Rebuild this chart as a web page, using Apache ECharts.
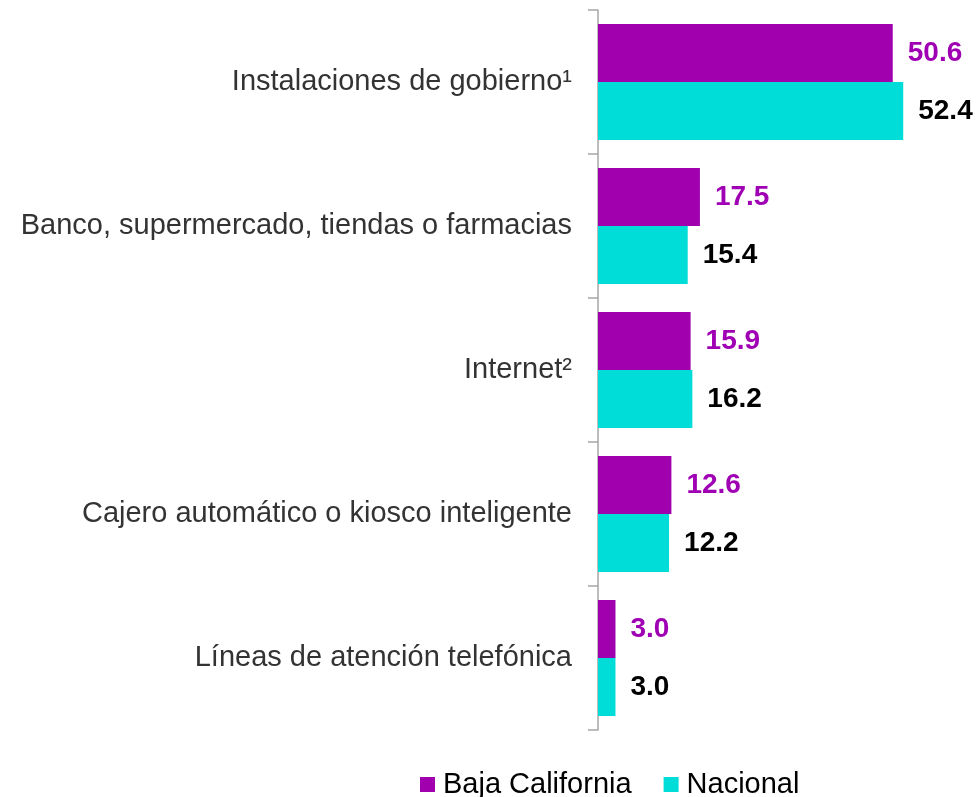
<!DOCTYPE html>
<html>
<head>
<meta charset="utf-8">
<script src="https://cdn.jsdelivr.net/npm/echarts@6/dist/echarts.min.js"></script>
<style>
html, body { margin: 0; padding: 0; background: #fff; }
#chart { width: 979px; height: 797px; }
</style>
</head>
<body>
<div id="chart"></div>
<script>
var categories = [
	'Instalaciones de gobierno\u00b9',
	'Banco, supermercado, tiendas o farmacias',
	'Internet\u00b2',
	'Cajero autom\u00e1tico o kiosco inteligente',
	'L\u00edneas de atenci\u00f3n telef\u00f3nica'
];
var bajaCalifornia = [50.6, 17.5, 15.9, 12.6, 3.0];
var nacional = [52.4, 15.4, 16.2, 12.2, 3.0];

var fontName = '"Liberation Sans", Arial, sans-serif';

// serie de barras con etiqueta a la derecha
function initBarSeries(serName, dataList, barColor, labelColor) {
	return {
		name : serName,
		type : 'bar',
		data : dataList,
		barGap : '0%',
		barCategoryGap : '19.5%',
		itemStyle : {
			color : barColor
		},
		label : {
			show : true,
			position : 'right',
			distance : 15,
			color : labelColor,
			fontSize : 28,
			fontWeight : 'bold',
			fontFamily : fontName,
			formatter : function(p) {
				return p.value.toFixed(1);
			}
		}
	};
}

var myChart = echarts.init(document.getElementById('chart'));
var option = {
	animation : false,
	legend : {
		data : ['Baja California', 'Nacional'],
		left : 415,
		top : 765,
		itemWidth : 15,
		itemHeight : 15,
		itemGap : 32,
		icon : 'rect',
		textStyle : {
			fontSize : 29,
			color : '#000',
			fontFamily : fontName,
			padding : [0, 0, 0, 3]
		}
	},
	grid : {
		left : 598,
		width : 349.5,
		top : 10,
		bottom : 67,
		containLabel : false
	},
	xAxis : {
		type : 'value',
		min : 0,
		max : 60,
		show : false,
		splitLine : { show : false }
	},
	yAxis : {
		type : 'category',
		data : categories,
		inverse : true,
		axisLine : {
			show : true,
			lineStyle : { color : '#a6a6a6', width : 1.5 }
		},
		axisTick : {
			show : true,
			length : 10,
			lineStyle : { color : '#a6a6a6', width : 1.5 }
		},
		axisLabel : {
			margin : 26,
			fontSize : 29,
			color : '#333',
			fontFamily : fontName
		}
	},
	series : [
		initBarSeries('Baja California', bajaCalifornia, '#a000ae', '#a000b4'),
		initBarSeries('Nacional', nacional, '#00dcd8', '#000')
	]
};
myChart.setOption(option);
</script>
</body>
</html>
